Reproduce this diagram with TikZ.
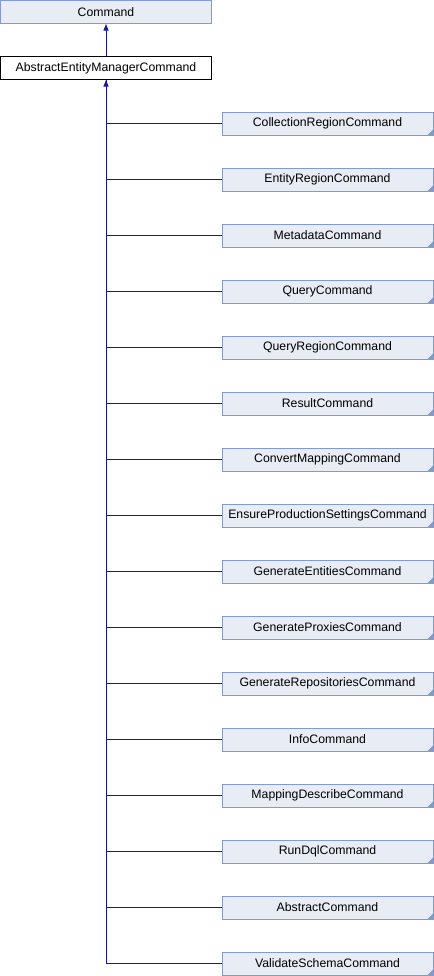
\documentclass[tikz,border=0pt]{standalone}
\usepackage{fontspec}
\setmainfont{Liberation Sans}
\usetikzlibrary{arrows.meta}

\definecolor{boxfill}{RGB}{232,236,244}
\definecolor{boxline}{RGB}{132,154,202}
\definecolor{linkblue}{RGB}{20,20,175}

\begin{document}
\begin{tikzpicture}[x=0.75pt,y=0.75pt,yscale=-1,xscale=1,
	cls/.style={draw=boxline,fill=boxfill,line width=0.75pt,minimum width=158.25pt,minimum height=17.25pt,inner sep=0pt,font=\fontsize{9.2}{10}\selectfont},
	sub/.style={cls,path picture={\fill[boxline] (path picture bounding box.south east) -- ++(-4pt,0pt) -- ++(4pt,4pt) -- cycle;}},
	cur/.style={cls,draw=black,fill=white},
	link/.style={draw=linkblue,line width=0.75pt},
	inherit/.style={link,-{Triangle[length=5pt,width=3.8pt]}}]
			\useasboundingbox (0,0) rectangle (434,976);

			% Base class
			\node [cls] (cmd) at (106,12) {Command};
			% Current class
			\node [cur] (aemc) at (106,68) {AbstractEntityManagerCommand};

			% Derived classes
			\node [sub] (collreg) at (327.5,123.5) {CollectionRegionCommand};
			\node [sub] (entreg) at (327.5,179.5) {EntityRegionCommand};
			\node [sub] (meta) at (327.5,235.5) {MetadataCommand};
			\node [sub] (query) at (327.5,291.5) {QueryCommand};
			\node [sub] (queryreg) at (327.5,347.5) {QueryRegionCommand};
			\node [sub] (result) at (327.5,403.5) {ResultCommand};
			\node [sub] (convmap) at (327.5,459.5) {ConvertMappingCommand};
			\node [sub] (ensprod) at (327.5,515.5) {EnsureProductionSettingsCommand};
			\node [sub] (genent) at (327.5,571.5) {GenerateEntitiesCommand};
			\node [sub] (genprox) at (327.5,627.5) {GenerateProxiesCommand};
			\node [sub] (genrepo) at (327.5,683.5) {GenerateRepositoriesCommand};
			\node [sub] (info) at (327.5,739.5) {InfoCommand};
			\node [sub] (mapdesc) at (327.5,795.5) {MappingDescribeCommand};
			\node [sub] (rundql) at (327.5,851.5) {RunDqlCommand};
			\node [sub] (abscmd) at (327.5,907.5) {AbstractCommand};
			\node [sub] (valschema) at (327.5,963.5) {ValidateSchemaCommand};

			% Inheritance links
			\draw [inherit] (aemc) -- (cmd);
			\draw [inherit] (valschema.west) -| (aemc.south);
			\draw [link] (collreg.west) -| (aemc.south);
			\draw [link] (entreg.west) -| (aemc.south);
			\draw [link] (meta.west) -| (aemc.south);
			\draw [link] (query.west) -| (aemc.south);
			\draw [link] (queryreg.west) -| (aemc.south);
			\draw [link] (result.west) -| (aemc.south);
			\draw [link] (convmap.west) -| (aemc.south);
			\draw [link] (ensprod.west) -| (aemc.south);
			\draw [link] (genent.west) -| (aemc.south);
			\draw [link] (genprox.west) -| (aemc.south);
			\draw [link] (genrepo.west) -| (aemc.south);
			\draw [link] (info.west) -| (aemc.south);
			\draw [link] (mapdesc.west) -| (aemc.south);
			\draw [link] (rundql.west) -| (aemc.south);
			\draw [link] (abscmd.west) -| (aemc.south);

		\end{tikzpicture}
\end{document}
